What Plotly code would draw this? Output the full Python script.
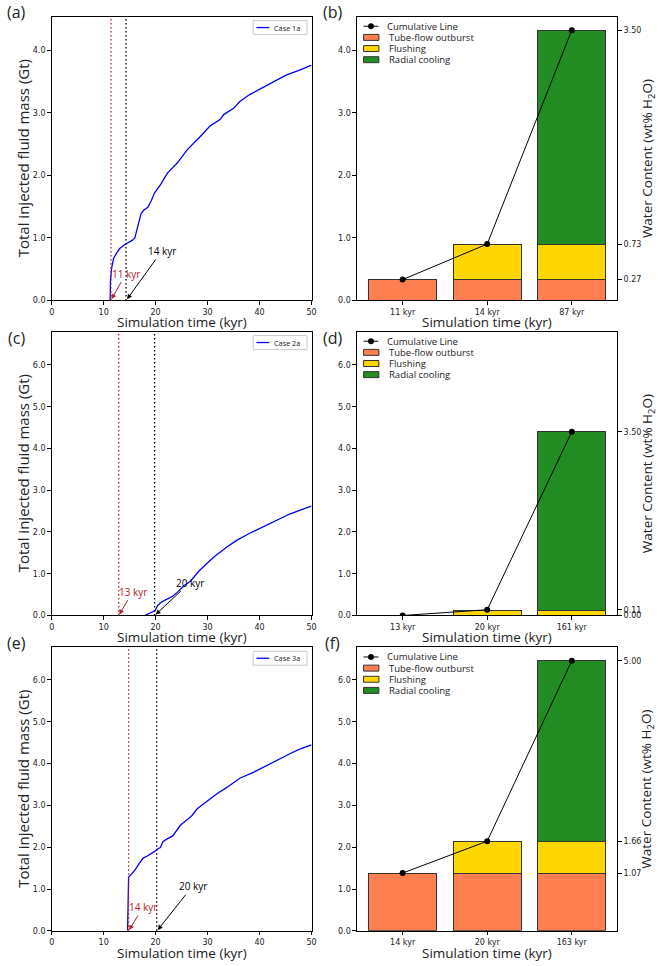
import plotly.graph_objects as go

# ---------------- data ----------------
# Panel (a) Case 1a
a_time = [11.25, 11.3, 11.5, 11.9, 12.5, 13.1, 14.0, 14.7, 15.5, 16.0, 16.5, 16.9, 17.2, 17.7,
          18.5, 19.2, 19.8, 21.0, 22.3, 24.2, 26.1, 28.6, 30.5, 32.4, 33.1, 35.0, 36.2, 38.1,
          40.1, 42.6, 45.1, 47.7, 50.0]
a_mass = [0.0, 0.3, 0.5, 0.67, 0.76, 0.83, 0.89, 0.92, 0.96, 1.0, 1.15, 1.30, 1.39, 1.44,
          1.49, 1.60, 1.72, 1.86, 2.04, 2.20, 2.41, 2.62, 2.79, 2.89, 2.97, 3.07, 3.18, 3.29,
          3.38, 3.50, 3.60, 3.68, 3.76]
# Panel (c) Case 2a
c_time = [17.9, 18.8, 19.9, 20.4, 21.0, 22.0, 23.3, 24.2, 25.5, 26.7, 27.5, 28.3, 29.9, 31.2,
          33.7, 35.6, 38.1, 40.7, 43.2, 45.8, 47.7, 50.0]
c_mass = [0.0, 0.05, 0.12, 0.24, 0.31, 0.38, 0.46, 0.56, 0.72, 0.82, 0.95, 1.06, 1.25, 1.40,
          1.64, 1.80, 1.97, 2.13, 2.28, 2.43, 2.52, 2.62]
# Panel (e) Case 3a
e_time = [14.6, 14.75, 14.8, 15.3, 16.0, 16.8, 17.6, 18.4, 19.1, 19.8, 20.4, 20.9, 21.4, 22.2,
          23.3, 24.0, 24.8, 26.1, 27.0, 28.0, 29.2, 30.5, 31.8, 33.7, 35.0, 36.2, 38.8, 41.3,
          43.9, 45.6, 46.4, 48.0, 50.0]
e_mass = [0.0, 0.9, 1.29, 1.35, 1.45, 1.60, 1.74, 1.79, 1.84, 1.90, 1.96, 1.99, 2.13, 2.20,
          2.27, 2.38, 2.53, 2.66, 2.76, 2.92, 3.03, 3.14, 3.28, 3.43, 3.55, 3.65, 3.79, 3.95,
          4.12, 4.22, 4.27, 4.36, 4.45]

case_names = ["Case 1a", "Case 2a", "Case 3a"]
red_line_times = [11.4, 12.9, 14.8]
black_line_times = [14.3, 19.8, 20.2]
red_labels = ["11 kyr", "13 kyr", "14 kyr"]
black_labels = ["14 kyr", "20 kyr", "20 kyr"]
red_text_pos = [(14.3, 0.43), (15.6, 0.57), (17.6, 0.57)]
black_text_pos = [(21.2, 0.79), (26.6, 0.79), (27.1, 1.07)]

# Bar panels (b), (d), (f)
b_cats = ["11 kyr", "14 kyr", "87 kyr"]
b_tube = [0.33, 0.33, 0.33]
b_flush = [0.0, 0.56, 0.56]
b_radial = [0.0, 0.0, 3.43]
b_cum = [0.27, 0.73, 3.50]

d_cats = ["13 kyr", "20 kyr", "161 kyr"]
d_tube = [0.0, 0.0, 0.0]
d_flush = [0.0, 0.13, 0.13]
d_radial = [0.0, 0.0, 4.27]
d_cum = [0.00, 0.11, 3.50]

f_cats = ["14 kyr", "20 kyr", "163 kyr"]
f_tube = [1.38, 1.38, 1.38]
f_flush = [0.0, 0.76, 0.76]
f_radial = [0.0, 0.0, 4.32]
f_cum = [1.07, 1.66, 5.00]

row_ymax = [4.536, 6.80, 6.78]
left_ticks = [[0, 1, 2, 3, 4], [0, 1, 2, 3, 4, 5, 6], [0, 1, 2, 3, 4, 5, 6]]

series_names = ["Cumulative Line", "Tube-flow outburst", "Flushing", "Radial cooling"]

# ---------------- layout geometry ----------------
W, H = 660, 966
LX = (49.3 / W, 312.3 / W)
RX = (358.3 / W, 622.0 / W)
ROWS_PX = [(16.7, 302.0), (333.3, 618.7), (650.7, 935.7)]
YD = [(1 - b / H, 1 - t / H) for (t, b) in ROWS_PX]

TICKFONT = dict(family="DejaVu Sans", size=8, color="#222")
TXTFONT = "Open Sans"
RED = "#b22222"
COL_TUBE = "#FF7F50"
COL_FLUSH = "#FFD700"
COL_RAD = "#228B22"
DOT = "1.5px,2.5px"

fig = go.Figure()
layout = {}
annotations = []
shapes = []

def px(x):
    return x / W

def py(y):
    return 1 - y / H

curves = [(a_time, a_mass), (c_time, c_mass), (e_time, e_mass)]
bars = [(b_cats, b_tube, b_flush, b_radial, b_cum),
        (d_cats, d_tube, d_flush, d_radial, d_cum),
        (f_cats, f_tube, f_flush, f_radial, f_cum)]
panel_letters = [("(a)", "(b)"), ("(c)", "(d)"), ("(e)", "(f)")]

def axis_common():
    return dict(showline=True, linecolor="black", linewidth=1, mirror=True,
                ticks="outside", ticklen=3.5, tickwidth=1, tickcolor="black",
                showgrid=False, zeroline=False, tickfont=TICKFONT)

def text(x, y, s, size, color="#222", angle=0, xanchor="center", family=TXTFONT):
    annotations.append(dict(x=px(x), y=py(y), xref="paper", yref="paper", text=s,
                            textangle=angle, showarrow=False, xanchor=xanchor,
                            yanchor="middle", font=dict(family=family, size=size, color=color)))

for r in range(3):
    xl = 2 * r + 1
    xr = 2 * r + 2
    yl = 3 * r + 1
    yb = 3 * r + 2
    yw = 3 * r + 3
    sx = lambda i: "x" if i == 1 else f"x{i}"
    sy = lambda i: "y" if i == 1 else f"y{i}"
    top = ROWS_PX[r][0]

    # ---- line panel ----
    t, m = curves[r]
    fig.add_trace(go.Scatter(x=t, y=m, mode="lines", name=case_names[r],
                             line=dict(color="#0000ff", width=1.3),
                             xaxis=sx(xl), yaxis=sy(yl), showlegend=False))
    ax = axis_common()
    ax.update(domain=list(LX), range=[0, 50], tickvals=[0, 10, 20, 30, 40, 50],
              anchor=sy(yl))
    layout["xaxis" if xl == 1 else f"xaxis{xl}"] = ax
    ay = axis_common()
    ay.update(domain=list(YD[r]), range=[0, row_ymax[r]], tickvals=left_ticks[r],
              tickformat=".1f", anchor=sx(xl))
    layout["yaxis" if yl == 1 else f"yaxis{yl}"] = ay

    for xv, col in [(red_line_times[r], RED), (black_line_times[r], "black")]:
        shapes.append(dict(type="line", xref=sx(xl), yref=f"{sy(yl)} domain",
                           x0=xv, x1=xv, y0=0, y1=1,
                           line=dict(color=col, width=1.3, dash=DOT)))
    for lab, pos, hx, col in [(red_labels[r], red_text_pos[r], red_line_times[r] + 0.1, RED),
                              (black_labels[r], black_text_pos[r], black_line_times[r] + 0.2, "black")]:
        annotations.append(dict(x=hx, y=0.02, xref=sx(xl), yref=sy(yl),
                                ax=pos[0], ay=pos[1], axref=sx(xl), ayref=sy(yl),
                                text=lab, showarrow=True, arrowhead=2, arrowsize=1,
                                arrowwidth=1, arrowcolor=col,
                                font=dict(family=TXTFONT, size=10, color=col)))

    # case legend (drawn manually, framed box top-right)
    shapes.append(dict(type="rect", xref="paper", yref="paper",
                       x0=px(253.3), x1=px(307.7), y0=py(top + 4), y1=py(top + 18),
                       line=dict(color="#cccccc", width=1), fillcolor="white"))
    shapes.append(dict(type="line", xref="paper", yref="paper",
                       x0=px(256.5), x1=px(269.5), y0=py(top + 11), y1=py(top + 11),
                       line=dict(color="#0000ff", width=1.3)))
    text(272.5, top + 11, case_names[r], 7.3, xanchor="left")

    # ---- bar panel ----
    cats, tube, flush, rad, cum = bars[r]
    tot = [a + b + c for a, b, c in zip(tube, flush, rad)]
    for vals, name, col in [(tube, series_names[1], COL_TUBE),
                            (flush, series_names[2], COL_FLUSH),
                            (rad, series_names[3], COL_RAD)]:
        fig.add_trace(go.Bar(x=cats, y=vals, name=name,
                             marker=dict(color=col, line=dict(color="#333", width=1)),
                             xaxis=sx(xr), yaxis=sy(yb), showlegend=False))
    fig.add_trace(go.Scatter(x=cats, y=cum, mode="lines+markers", name=series_names[0],
                             line=dict(color="black", width=1),
                             marker=dict(color="black", size=6),
                             xaxis=sx(xr), yaxis=sy(yw), showlegend=False))
    bx = axis_common()
    bx.update(domain=list(RX), range=[-0.54, 2.54], type="category", anchor=sy(yb))
    layout[f"xaxis{xr}"] = bx
    by = axis_common()
    by.update(domain=list(YD[r]), range=[0, row_ymax[r]], tickvals=left_ticks[r],
              tickformat=".1f", anchor=sx(xr))
    layout[f"yaxis{yb}"] = by
    wy = axis_common()
    wy.update(overlaying=sy(yb), side="right", anchor=sx(xr),
              range=[0, row_ymax[r] * cum[-1] / tot[-1]],
              tickvals=cum, ticktext=[f"{v:.2f}" for v in cum], mirror=False)
    layout[f"yaxis{yw}"] = wy

    # bar legend (manual, no frame)
    offs = [9.7, 20.9, 32.1, 43.3]
    y0 = top + offs[0]
    shapes.append(dict(type="line", xref="paper", yref="paper",
                       x0=px(365), x1=px(380), y0=py(y0), y1=py(y0),
                       line=dict(color="black", width=1)))
    shapes.append(dict(type="circle", xref="paper", yref="paper",
                       x0=px(369.7), x1=px(375.3), y0=py(y0 - 2.8), y1=py(y0 + 2.8),
                       line=dict(color="black", width=0.5), fillcolor="black"))
    text(386.5, y0, series_names[0], 9.5, xanchor="left")
    for k, col in enumerate([COL_TUBE, COL_FLUSH, COL_RAD]):
        yy = top + offs[k + 1]
        shapes.append(dict(type="rect", xref="paper", yref="paper",
                           x0=px(365), x1=px(380.5), y0=py(yy - 3), y1=py(yy + 3),
                           line=dict(color="#333", width=1), fillcolor=col))
        text(388.5, yy, series_names[k + 1], 9.5, xanchor="left")

    # ---- text: axis titles and panel letters ----
    ymid = (ROWS_PX[r][0] + ROWS_PX[r][1]) / 2
    text(20, ymid, "Total injected fluid mass (Gt)", 15, angle=-90)
    text(652.5, ymid, "Water Content (wt% H<sub>2</sub>O)", 13.5, angle=-90)
    ty = ROWS_PX[r][1] + 22
    text((LX[0] + LX[1]) / 2 * W, ty, "Simulation time (kyr)", 13.5)
    text((RX[0] + RX[1]) / 2 * W, ty, "Simulation time (kyr)", 13.5)
    ly = [12, 340, 646][r]
    text(14, ly, panel_letters[r][0], 16)
    text(334, ly, panel_letters[r][1], 16)

fig.update_layout(**layout)
fig.update_layout(width=W, height=H, margin=dict(l=0, r=0, t=0, b=0),
                  paper_bgcolor="white", plot_bgcolor="white",
                  barmode="stack", bargap=0.2, showlegend=False,
                  annotations=annotations, shapes=shapes)
fig.write_html("out.html")
